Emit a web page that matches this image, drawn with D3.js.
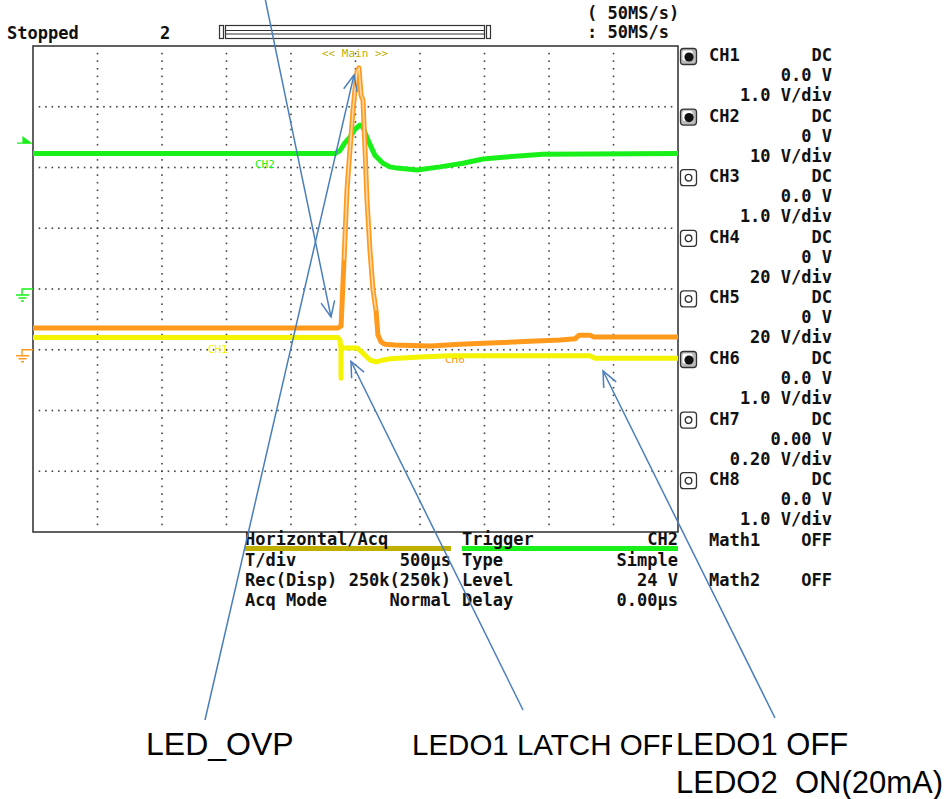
<!DOCTYPE html>
<html><head><meta charset="utf-8">
<script src="https://cdn.jsdelivr.net/npm/d3@7"></script>
<style>body{margin:0;background:#fff}svg{display:block}text{white-space:pre}</style>
</head><body>
<svg id="c" width="952" height="799"></svg>
<script>
// ---------------- data ----------------
const statusText = "Stopped";
const acqCount = "2";
const sampleRates = ["( 50MS/s)", ": 50MS/s"];
const timeDomainUs = [-2500, 2500];     // 500 us/div, 10 div
const timeTicksUs = d3.range(-2500, 2501, 500);
const channels = ["CH1","CH2","CH3","CH4","CH5","CH6","CH7","CH8"];
const couplings = ["DC","DC","DC","DC","DC","DC","DC","DC"];
const offsets = ["0.0 V","0 V","0.0 V","0 V","0 V","0.0 V","0.00 V","0.0 V"];
const vScales = ["1.0 V/div","10 V/div","1.0 V/div","20 V/div","20 V/div","1.0 V/div","0.20 V/div","1.0 V/div"];
const activeCh = [true,true,false,false,false,true,false,false];
const groundDiv = { CH1: -1, CH2: 0, CH6: -1 };
const mathNames = ["Math1","Math2"];
const mathStates = ["OFF","OFF"];
const horizHeader = ["Horizontal/Acq", ""];
const horizKeys = ["T/div","Rec(Disp)","Acq Mode"];
const horizVals = ["500\u00b5s","250k(250k)","Normal"];
const trigHeader = ["Trigger","CH2"];
const trigKeys = ["Type","Level","Delay"];
const trigVals = ["Simple","24 V","0.00\u00b5s"];
const triggerLevelV = 24;

// CH2 (green) time in us, volts
const ch2T = [-2500,-159,-120,-81,-43,-4,35,58,97,151,213,267,322,477,655,833,988,1143,1453,2500];
const ch2V = [22.3,22.3,22.8,24.1,25.0,26.3,27.0,26.6,24.5,22.0,20.7,20.1,19.9,19.6,20.1,20.7,21.4,21.7,22.2,22.3];
// CH6 (orange)
const ch6T = [-2500,-136,-112,-89,-66,-43,-19,-4,12,27,43,58,74,89,112,136,159,174,198,229,306,578,810,1043,1353,1585,1702,1733,1818,1849,2500];
const ch6V = [0.36,0.36,0.39,1.48,2.63,3.29,3.95,4.28,4.58,4.64,4.19,4.11,3.29,2.47,1.64,0.98,0.65,0.24,0.13,0.09,0.08,0.06,0.09,0.11,0.14,0.16,0.18,0.24,0.24,0.21,0.21];
// CH1 (yellow)
const ch1T = [-2500,-136,-120,-113,-112,-111,12,50,112,159,213,267,500,733,1818,1857,2500];
const ch1V = [0.20,0.20,0.16,0.03,-0.47,0.03,0.03,-0.04,-0.17,-0.20,-0.17,-0.15,-0.12,-0.10,-0.10,-0.14,-0.14];

const annLabels = ["", "LED_OVP", "LEDO1 LATCH OFF", "LEDO1 OFF"];
const annTargetCh = ["CH6","CH6","CH1","CH1"];
const annTargetT = [-190, -12, -35, 1919];
const annTargetV = [0.54, 4.52, -0.19, -0.35];
const annSecondLine = ["", "", "", "LEDO2  ON(20mA)"];

// ---------------- layout ----------------
const svg = d3.select("#c");
const X0 = 33, X1 = 678, Y0 = 46, Y1 = 532;
const x = d3.scaleLinear().domain(timeDomainUs).range([X0, X1]);
const yDiv = d3.scaleLinear().domain([-4, 4]).range([Y1, Y0]);
const vPerDiv = ch => parseFloat(vScales[channels.indexOf(ch)]);
const yOf = (ch, v) => yDiv(groundDiv[ch] + v / vPerDiv(ch));

const MONO = "'DejaVu Sans Mono', monospace";
const SANS = "'Liberation Sans', Arial, sans-serif";
const colGreen = "#19f019", colOrange = "#ff9a1c", colYellow = "#f4f400", colOlive = "#bfb000";
const colBlue = "#4a7ebb";

function txt(g, s, xx, yy, opt = {}) {
  return g.append("text").attr("x", xx).attr("y", yy).text(s)
    .attr("xml:space", "preserve")
    .attr("font-family", opt.family || MONO)
    .attr("font-size", opt.size || 17)
    .attr("font-weight", opt.weight || "bold")
    .attr("fill", opt.fill || "#111")
    .attr("text-anchor", opt.anchor || "start");
}

// top status row
txt(svg, statusText, 7, 39);
txt(svg, acqCount, 160, 39);
txt(svg, sampleRates[0], 587, 19);
txt(svg, sampleRates[1], 587, 38);
// scroll bar
const bar = svg.append("g").attr("fill", "none").attr("stroke", "#333").attr("stroke-width", 1.2);
bar.append("rect").attr("x", 219.5).attr("y", 25.5).attr("width", 4).attr("height", 13);
bar.append("rect").attr("x", 486.5).attr("y", 25.5).attr("width", 4).attr("height", 13);
bar.append("rect").attr("x", 225.5).attr("y", 25.5).attr("width", 259).attr("height", 13);
bar.append("line").attr("x1", 225).attr("x2", 485).attr("y1", 30.5).attr("y2", 30.5);
bar.append("line").attr("x1", 225).attr("x2", 485).attr("y1", 34).attr("y2", 34);

// grid dots
const gridG = svg.append("g").attr("fill", "#444");
const dots = [];
timeTicksUs.slice(1, -1).forEach(t => {
  d3.range(-31, 32).forEach(k => dots.push([x(t), yDiv(k / 8)]));
});
d3.range(-3, 4).forEach(dv => {
  d3.range(1, 100).forEach(j => dots.push([x(timeDomainUs[0] + j * 50), yDiv(dv)]));
});
gridG.selectAll("rect").data(dots).join("rect")
  .attr("x", d => d[0] - 0.8).attr("y", d => d[1] - 0.8).attr("width", 1.6).attr("height", 1.6);

// frame
svg.append("rect").attr("x", X0).attr("y", Y0).attr("width", X1 - X0).attr("height", Y1 - Y0)
  .attr("fill", "none").attr("stroke", "#3a3a3a").attr("stroke-width", 1.6);

// << Main >>
txt(svg, "<< Main >>", 322, 57, { size: 11, weight: "normal", fill: colOlive });

// trace labels (behind traces)
txt(svg, "CH2", 255, 168, { size: 11, weight: "normal", fill: colGreen });
txt(svg, "CH1", 208, 353, { size: 11, weight: "normal", fill: colYellow });
txt(svg, "CH6", 445, 363, { size: 11, weight: "normal", fill: colOrange });

// traces
const lineGen = ch => d3.line().x(d => x(d[0])).y(d => yOf(ch, d[1]));
const traces = [
  { ch: "CH2", pts: d3.zip(ch2T, ch2V), col: colGreen, w: 5 },
  { ch: "CH1", pts: d3.zip(ch1T, ch1V), col: colYellow, w: 5 },
  { ch: "CH6", pts: d3.zip(ch6T, ch6V), col: colOrange, w: 5 }
];
traces.forEach(tr => {
  svg.append("path").attr("d", lineGen(tr.ch)(tr.pts)).attr("fill", "none")
    .attr("stroke", tr.col).attr("stroke-width", tr.w).attr("stroke-linejoin", "round");
});
// pale core of orange spike
const spike = d3.zip(ch6T, ch6V).filter(d => d[0] >= -95 && d[0] <= 165);
svg.append("path").attr("d", lineGen("CH6")(spike)).attr("fill", "none")
  .attr("stroke", "#ffd8a8").attr("stroke-width", 1.6).attr("stroke-linejoin", "round");

// ground markers & trigger marker
function groundMark(yy, col) {
  const g = svg.append("g").attr("stroke", col).attr("stroke-width", 1.4).attr("fill", "none");
  g.append("path").attr("d", `M${X0},${yy}H22V${yy + 6}M16,${yy + 6}H29M18.5,${yy + 9}H26.5M21,${yy + 12}H24`);
}
groundMark(yDiv(groundDiv.CH2), colGreen);
groundMark(yDiv(groundDiv.CH6), colOrange);
const ty = yOf("CH2", triggerLevelV);
svg.append("path").attr("d", `M17,${ty}H${X0 - 2}L23,${ty - 6}V${ty}Z`)
  .attr("fill", colGreen).attr("stroke", colGreen).attr("stroke-width", 1.2);

// right panel
const rp = svg.append("g");
channels.forEach((c, i) => {
  const by = 61 + 60.6 * i;
  const ig = rp.append("g").attr("transform", `translate(680,${by - 13})`);
  ig.append("rect").attr("x", 0.5).attr("y", 0.5).attr("width", 16).attr("height", 16).attr("rx", 3)
    .attr("fill", activeCh[i] ? "#bbb" : "#fff").attr("stroke", "#333").attr("stroke-width", 1.3);
  if (activeCh[i]) {
    ig.append("rect").attr("x", 2.5).attr("y", 2.5).attr("width", 10).attr("height", 10).attr("rx", 2).attr("fill", "#fff");
    ig.append("circle").attr("cx", 9).attr("cy", 9).attr("r", 4.6).attr("fill", "#111");
  } else {
    ig.append("circle").attr("cx", 8.5).attr("cy", 8.5).attr("r", 3.3).attr("fill", "none").attr("stroke", "#333").attr("stroke-width", 1.4);
  }
  txt(rp, c, 709, by);
  txt(rp, couplings[i], 832, by, { anchor: "end" });
  txt(rp, offsets[i], 832, by + 20, { anchor: "end" });
  txt(rp, vScales[i], 832, by + 40, { anchor: "end" });
});
mathNames.forEach((m, i) => {
  const by = 546 + 40 * i;
  txt(rp, m, 709, by);
  txt(rp, mathStates[i], 832, by, { anchor: "end" });
});

// bottom panel
const bp = svg.append("g");
bp.append("rect").attr("x", 245).attr("y", 546).attr("width", 206).attr("height", 5).attr("fill", colOlive);
bp.append("rect").attr("x", 462).attr("y", 546).attr("width", 216).attr("height", 5).attr("fill", colGreen);
txt(bp, horizHeader[0], 245, 545);
txt(bp, trigHeader[0], 462, 545);
txt(bp, trigHeader[1], 678, 545, { anchor: "end" });
horizKeys.forEach((k, i) => {
  const by = 566 + 20 * i;
  txt(bp, k, 245, by);
  txt(bp, horizVals[i], 451, by, { anchor: "end" });
  txt(bp, trigKeys[i], 462, by);
  txt(bp, trigVals[i], 678, by, { anchor: "end" });
});

// annotations
const annFrom = [[265, -2], [205, 720], [523, 710], [775, 718]];
const annText = [null, [146, 755], [412, 755], [676, 755]];
const annSize = [0, 32, 29.5, 31];
const ag = svg.append("g");
annLabels.forEach((lab, i) => {
  const tip = [x(annTargetT[i]), yOf(annTargetCh[i], annTargetV[i])];
  const fr = annFrom[i];
  ag.append("line").attr("x1", fr[0]).attr("y1", fr[1]).attr("x2", tip[0]).attr("y2", tip[1])
    .attr("stroke", colBlue).attr("stroke-width", 1.5);
  const ang = Math.atan2(fr[1] - tip[1], fr[0] - tip[0]);
  const L = 17, a = 0.42;
  const w1 = [tip[0] + L * Math.cos(ang + a), tip[1] + L * Math.sin(ang + a)];
  const w2 = [tip[0] + L * Math.cos(ang - a), tip[1] + L * Math.sin(ang - a)];
  ag.append("path").attr("d", `M${w1}L${tip}L${w2}`).attr("fill", "none")
    .attr("stroke", colBlue).attr("stroke-width", 1.5);
});
annLabels.forEach((lab, i) => {
  if (!lab) return;
  const p = annText[i];
  if (annSecondLine[i]) {
    ag.append("rect").attr("x", p[0] - 4).attr("y", p[1] - 25).attr("width", 952 - p[0] + 4).attr("height", 70).attr("fill", "#fff");
  }
  txt(ag, lab, p[0], p[1], { family: SANS, size: annSize[i], weight: "normal", fill: "#000" });
  if (annSecondLine[i]) {
    txt(ag, annSecondLine[i], p[0], p[1] + 38, { family: SANS, size: annSize[i], weight: "normal", fill: "#000" });
  }
});
</script>
</body></html>
